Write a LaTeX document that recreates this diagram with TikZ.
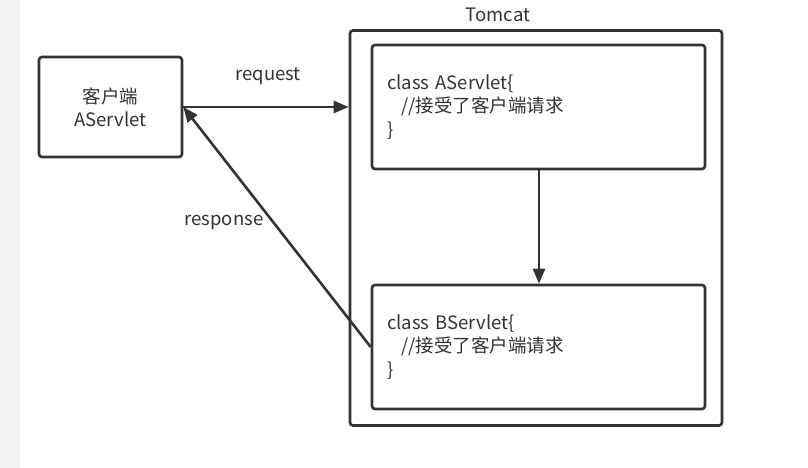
\documentclass[tikz,border=0pt]{standalone}
\usepackage{fontspec}
\setmainfont{Noto Sans CJK SC}
\usetikzlibrary{arrows.meta}
\definecolor{ink}{HTML}{333333}
\definecolor{strip}{HTML}{F1F1F1}
\tikzset{
  boxed/.style={draw=ink, line width=2.6pt, rounded corners=3pt, fill=white, inner sep=0pt},
  lbl/.style={text=ink, font=\fontsize{18.5}{23}\selectfont, inner sep=0pt},
  arr/.style={draw=ink, line width=2.6pt, -{Triangle[length=15pt,width=12pt]}},
}
\begin{document}
\begin{tikzpicture}[x=1pt, y=-1pt]
  \useasboundingbox (0,0) rectangle (808,468);
  \fill[white] (0,0) rectangle (808,468);
  \fill[strip] (0,0) rectangle (20,468);

  \node[boxed, minimum width=143pt, minimum height=100pt, align=center, text=ink,
        font=\fontsize{18.5}{23}\selectfont] (client) at (110.5,107) {客户端\\AServlet};

  \node[boxed, minimum width=372pt, minimum height=395pt] (tomcat) at (536,228) {};
  \node[lbl] (tlabel) at (498,15) {Tomcat};

  \node[boxed, minimum width=333pt, minimum height=124pt, text width=303pt, align=left,
        text=ink, font=\fontsize{18.5}{23.5}\selectfont] (A) at (538.5,107)
        {class AServlet\{\\\hspace*{14pt}//接受了客户端请求\\\}};
  \node[boxed, minimum width=333pt, minimum height=124pt, text width=303pt, align=left,
        text=ink, font=\fontsize{18.5}{23.5}\selectfont] (B) at (538.5,347)
        {class BServlet\{\\\hspace*{14pt}//接受了客户端请求\\\}};

  \coordinate (reqend) at (tomcat.west |- client.east);
  \draw[arr] (client.east) -- (reqend);
  \node[lbl] (reqlbl) at (268,76) {request};

  \draw[arr] (A.south -| 539,0) -- (B.north -| 539,0);

  \draw[arr] (B.west) -- (client.east);
  \node[lbl] (reslbl) at (224,222) {response};
\end{tikzpicture}
\end{document}
